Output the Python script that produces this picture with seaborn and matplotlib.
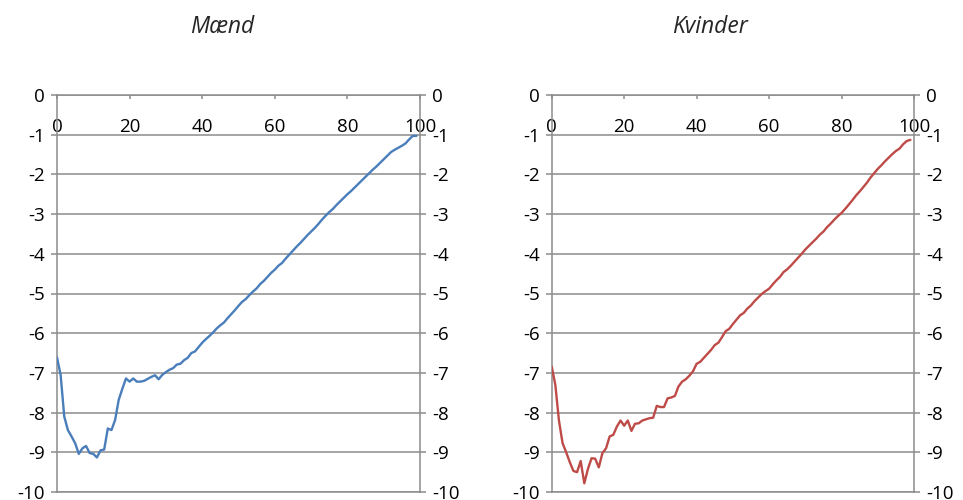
import matplotlib
matplotlib.use("Agg")
import matplotlib.pyplot as plt
import seaborn as sns
import numpy as np
import pandas as pd

# ---- data ----
ages = list(range(100))
men = [-6.61, -7.05, -8.10, -8.44, -8.60, -8.77, -9.04, -8.90, -8.84, -9.02,
       -9.04, -9.13, -8.95, -8.93, -8.40, -8.44, -8.19, -7.68, -7.40, -7.14,
       -7.22, -7.14, -7.22, -7.22, -7.20, -7.15, -7.10, -7.06, -7.16, -7.05,
       -6.98, -6.92, -6.88, -6.79, -6.77, -6.68, -6.62, -6.50, -6.46, -6.35,
       -6.24, -6.15, -6.07, -5.98, -5.88, -5.80, -5.73, -5.62, -5.52, -5.42,
       -5.31, -5.21, -5.14, -5.04, -4.95, -4.87, -4.76, -4.68, -4.58, -4.48,
       -4.40, -4.30, -4.23, -4.12, -4.02, -3.92, -3.82, -3.73, -3.63, -3.53,
       -3.44, -3.35, -3.25, -3.14, -3.04, -2.95, -2.87, -2.77, -2.68, -2.59,
       -2.50, -2.42, -2.33, -2.24, -2.15, -2.06, -1.97, -1.88, -1.80, -1.71,
       -1.62, -1.53, -1.44, -1.38, -1.33, -1.28, -1.22, -1.12, -1.03, -1.03]
women = [-6.84, -7.30, -8.20, -8.77, -9.00, -9.25, -9.47, -9.50, -9.22, -9.78,
         -9.42, -9.15, -9.16, -9.38, -9.02, -8.90, -8.60, -8.56, -8.35, -8.20,
         -8.33, -8.20, -8.46, -8.28, -8.27, -8.20, -8.17, -8.14, -8.13, -7.83,
         -7.86, -7.86, -7.64, -7.62, -7.58, -7.34, -7.22, -7.16, -7.07, -6.96,
         -6.77, -6.72, -6.62, -6.52, -6.42, -6.30, -6.24, -6.10, -5.95, -5.89,
         -5.77, -5.66, -5.55, -5.49, -5.38, -5.30, -5.19, -5.10, -5.01, -4.94,
         -4.88, -4.77, -4.67, -4.58, -4.46, -4.39, -4.30, -4.20, -4.10, -4.00,
         -3.89, -3.80, -3.71, -3.62, -3.52, -3.44, -3.33, -3.24, -3.14, -3.05,
         -2.97, -2.87, -2.76, -2.65, -2.53, -2.43, -2.32, -2.21, -2.08, -1.97,
         -1.86, -1.77, -1.67, -1.58, -1.49, -1.41, -1.35, -1.24, -1.16, -1.13]
titles = ["Mænd", "Kvinder"]
colors = ["#4A7EBB", "#BE4B48"]
x_ticks = [0, 20, 40, 60, 80, 100]
y_ticks = list(range(0, -11, -1))

sns.set_style("white")
plt.rcParams["font.family"] = ["Open Sans", "DejaVu Sans"]

GRID = "#8C8C8C"
W, H = 963, 500
fig = plt.figure(figsize=(W / 100, H / 100), dpi=100)

panels = [(57, 420, 222), (551.7, 914, 710)]
top_px, bot_px = 95, 492
series = [men, women]

for (lx, rx, tx), vals, col, title in zip(panels, series, colors, titles):
    ax = fig.add_axes([lx / W, 1 - bot_px / H, (rx - lx) / W, (bot_px - top_px) / H])
    df = pd.DataFrame({"x": ages, "y": vals})
    sns.lineplot(data=df, x="x", y="y", ax=ax, color=col, linewidth=1.7, zorder=3)
    ax.set_xlim(0, 100)
    ax.set_ylim(-10, 0)
    ax.set_xlabel("")
    ax.set_ylabel("")
    ax.set_yticks(y_ticks)
    ax.set_yticklabels([str(v) for v in y_ticks])
    ax.set_xticks(x_ticks)
    ax.set_xticklabels([str(v) for v in x_ticks])
    ax.grid(axis="y", color=GRID, linewidth=1.1, zorder=1)
    ax.grid(axis="x", visible=False)
    for s in ax.spines.values():
        s.set_color(GRID)
        s.set_linewidth(1.1)
        s.set_visible(True)
    ax.tick_params(axis="y", which="major", direction="out", length=4.5, width=1.1,
                   color=GRID, left=True, right=True, labelleft=True, labelright=True,
                   labelsize=13.5, pad=4.0, labelcolor="black")
    ax.tick_params(axis="x", which="major", direction="in", length=3, width=1.1,
                   color=GRID, top=True, bottom=False, labeltop=True, labelbottom=False,
                   labelsize=13.5, pad=-29.5, labelcolor="black")
    fig.text(tx / W, 1 - 27 / H, title, ha="center", va="center",
             fontsize=16.5, style="italic")

fig.savefig("out.png", dpi=100)
